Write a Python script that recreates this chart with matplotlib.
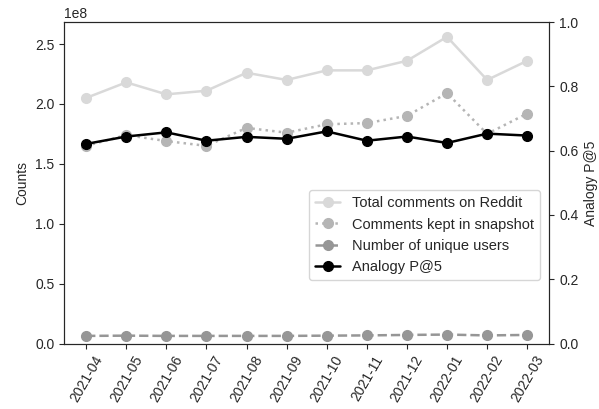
import matplotlib
matplotlib.use("Agg")
import matplotlib.pyplot as plt
import seaborn as sns
import numpy as np

months = ["2021-04", "2021-05", "2021-06", "2021-07", "2021-08", "2021-09",
          "2021-10", "2021-11", "2021-12", "2022-01", "2022-02", "2022-03"]
total_comments = [2.05e8, 2.18e8, 2.08e8, 2.11e8, 2.26e8, 2.20e8,
                  2.28e8, 2.28e8, 2.36e8, 2.56e8, 2.20e8, 2.36e8]
kept_comments = [1.65e8, 1.74e8, 1.69e8, 1.65e8, 1.80e8, 1.76e8,
                 1.83e8, 1.84e8, 1.90e8, 2.09e8, 1.75e8, 1.92e8]
unique_users = [0.064e8, 0.066e8, 0.064e8, 0.064e8, 0.064e8, 0.064e8,
                0.066e8, 0.068e8, 0.072e8, 0.075e8, 0.068e8, 0.072e8]
analogy_p5 = [0.621, 0.644, 0.657, 0.631, 0.643, 0.637,
              0.660, 0.631, 0.644, 0.624, 0.653, 0.647]

sns.set_style("ticks")
plt.rcParams['font.family'] = ['Liberation Sans', 'DejaVu Sans']

fig, ax = plt.subplots(figsize=(5.99, 4.09), dpi=100)
fig.subplots_adjust(left=0.107, right=0.917, top=0.946, bottom=0.16)

x = np.arange(len(months))
l1, = ax.plot(x, total_comments, color="#d9d9d9", marker="o", markersize=7,
              linewidth=1.8, label="Total comments on Reddit")
l2, = ax.plot(x, kept_comments, color="#b5b5b5", marker="o", markersize=7,
              linewidth=1.8, linestyle=":", label="Comments kept in snapshot")
l3, = ax.plot(x, unique_users, color="#969696", marker="o", markersize=7,
              linewidth=1.8, linestyle="--", label="Number of unique users")
ax.set_ylim(0, 2.683e8)
ax.set_ylabel("Counts", fontsize=10)
ax.set_xticks(x)
ax.set_xticklabels(months, rotation=60)
ax.tick_params(labelsize=10)

ax2 = ax.twinx()
l4, = ax2.plot(x, analogy_p5, color="black", marker="o", markersize=7,
               linewidth=1.8, label="Analogy P@5")
ax2.set_ylim(0, 1.0)
ax2.set_ylabel("Analogy P@5", fontsize=10)
ax2.tick_params(labelsize=10)

ax2.legend(handles=[l1, l2, l3, l4], loc="center right",
           bbox_to_anchor=(0.995, 0.337), fontsize=10.5, handlelength=1.7)

fig.savefig("out.png", dpi=100)
